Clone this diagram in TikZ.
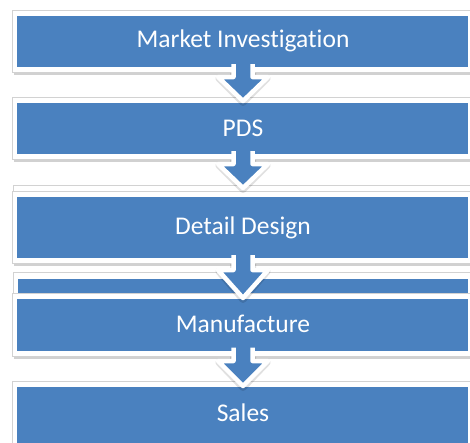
\documentclass[tikz,border=0pt]{standalone}
\usepackage{fontspec}
\setmainfont[RawFeature={-liga;-clig;-dlig}]{Carlito}
\definecolor{boxblue}{HTML}{4A81BF}
\definecolor{frameline}{HTML}{D2D2D2}
\tikzset{
  x=1pt, y=-1pt,
  framebox/.style={fill=white, draw=frameline, line width=0.8pt},
  shadowbox/.style={fill=black, opacity=0.18},
  bluebox/.style={fill=boxblue},
  boxtext/.style={text=white, font=\fontsize{25.5}{30}\selectfont, anchor=base, inner sep=0pt},
  blockarrow/.style={fill=boxblue, draw=white, line width=4.5pt, line join=round},
  arrowshadow/.style={fill=black, draw=black, line width=7pt, opacity=0.12, line join=round}
}
\newcommand{\stepboxdraw}[5]{% name, top frame, bottom frame, baseline, text
  \fill[shadowbox] (14,#2+2) rectangle (474,#3+2.5);
  \draw[framebox] (12,#2) rectangle (474,#3);
  \fill[bluebox] (17,#2+5.5) rectangle (468,#3-5.5);
  \node[boxtext] (#1) at (243,#4) {#5};
}
\newcommand{\blockarr}[4]{% name, top, shoulder, tip
  \path[arrowshadow] (233.5,#2+6) -- (233.5,#3+1.5) -- (219,#3+1.5) -- (243,#4+1.5) -- (267,#3+1.5) -- (252.5,#3+1.5) -- (252.5,#2+6);
  \draw[blockarrow] (233.5,#2-3) -- (233.5,#3) -- (218,#3) -- (243,#4) -- (268,#3) -- (252.5,#3) -- (252.5,#2-3);
  \coordinate (#1) at (243,#4);
}
\begin{document}
\begin{tikzpicture}
\useasboundingbox (0,0) rectangle (470,442);
\fill[white] (0,0) rectangle (470,442);
\begin{scope}
\clip (0,0) rectangle (470,442);
% box 1
\stepboxdraw{b1}{10}{72.5}{47}{Market Investigation}
% box 2
\stepboxdraw{b2}{97.5}{159.5}{136}{PDS}
% box 3 (with faint box behind)
\draw[framebox] (13,185) rectangle (474,230);
\stepboxdraw{b3}{191}{263.5}{234}{Detail Design}
% box 4 (with box behind)
\fill[shadowbox] (15,274) rectangle (474,300);
\draw[framebox] (13,272.5) rectangle (474,300);
\fill[bluebox] (18,279) rectangle (468,300);
\stepboxdraw{b4}{293}{356}{332}{Manufacture}
% box 5
\stepboxdraw{b5}{381.5}{449}{421}{Sales}
% arrows
\blockarr{a1}{67}{77}{101}
\blockarr{a2}{154}{164}{188}
\blockarr{a3}{258}{270}{298}
\blockarr{a4}{350.5}{361}{386}
\end{scope}
\end{tikzpicture}
\end{document}
